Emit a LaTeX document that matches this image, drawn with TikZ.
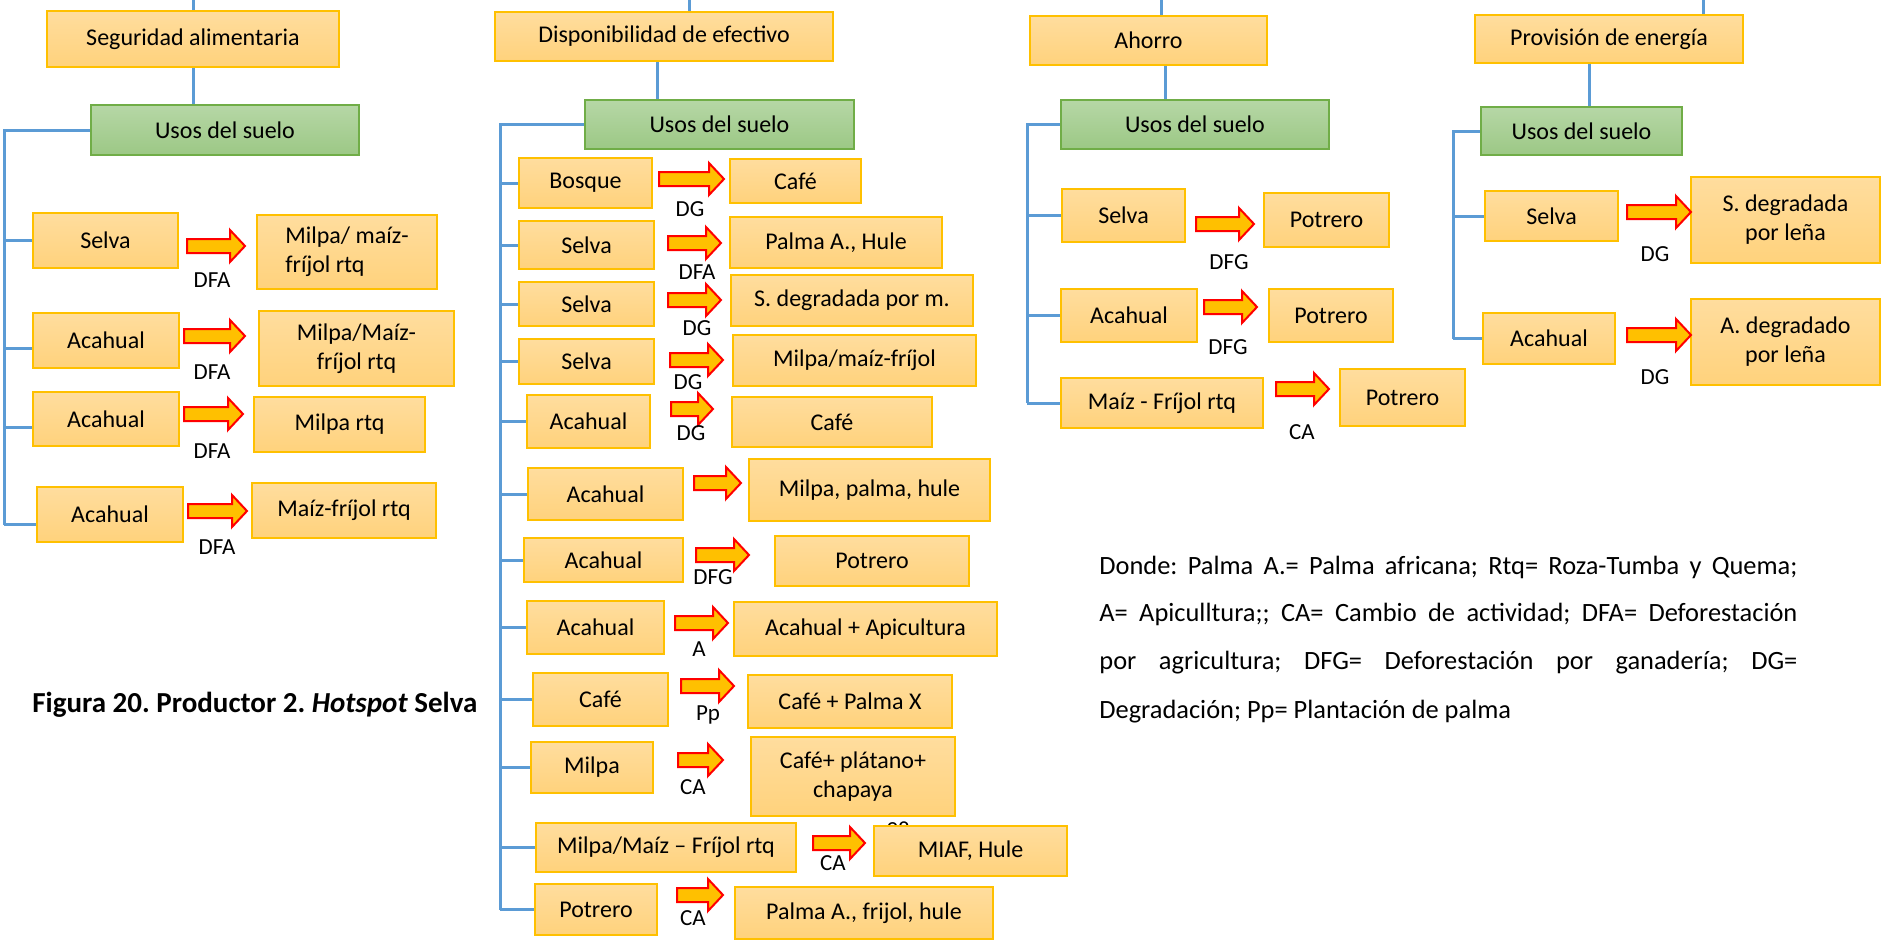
\documentclass[tikz,border=0pt]{standalone}
\usepackage{fontspec}
\setmainfont{Carlito}
\usetikzlibrary{calc}
\frenchspacing
\definecolor{gold}{HTML}{FFC000}
\definecolor{oTop}{HTML}{FFDD9E}
\definecolor{oBot}{HTML}{FFD27C}
\definecolor{gTop}{HTML}{B6D7A6}
\definecolor{gBot}{HTML}{9CC885}
\definecolor{gEdge}{HTML}{70AD47}
\definecolor{connc}{HTML}{5B9BD5}
\definecolor{aRed}{HTML}{FF0000}
% box from pixel corners: \bx[style]{name}{x1}{y1}{x2}{y2}{text}
\newcommand{\bx}[7][obox]{%
  \node[#1, minimum width={(#5-#3)*0.5pt}, minimum height={(#6-#4)*0.5pt}] (#2) at ({(#3+#5)/2},{(#4+#6)/2}) {#7};}
\newcommand{\blockarr}[3]{%
  \draw[barrow] (#1,{#3-7}) -- ({#2-15},{#3-7}) -- ({#2-15},{#3-16}) -- (#2,#3) -- ({#2-15},{#3+16}) -- ({#2-15},{#3+7}) -- (#1,{#3+7}) -- cycle;}
\begin{document}
\begin{tikzpicture}[x=0.5pt,y=-0.5pt,
  obox/.style={draw=gold, line width=1pt, top color=oTop, bottom color=oBot, inner sep=0pt, align=center, font=\fontsize{12}{14.5}\selectfont},
  oboxl/.style={obox, align=left},
  gbox/.style={draw=gEdge, line width=1pt, top color=gTop, bottom color=gBot, inner sep=0pt, font=\fontsize{12}{14.5}\selectfont},
  conn/.style={draw=connc, line width=1.5pt},
  barrow/.style={draw=aRed, fill=gold, line width=1pt, line join=miter},
  lbl/.style={inner sep=0pt, font=\fontsize{11.5}{13}\selectfont},
  leg/.style={anchor=base west, inner sep=0pt, font=\fontsize{13.2}{16}\selectfont}]
\useasboundingbox (0,0) rectangle (1881,943);
\coordinate (top) at (0,0);
\coordinate (sp1) at (4,0);
\coordinate (sp2) at (500,0);
\coordinate (sp3) at (1027,0);
\coordinate (sp4) at (1453,0);

% ---------- Column 1 ----------
\bx{sa}{47}{11}{339}{67}{Seguridad alimentaria}
\bx[gbox]{u1}{91}{105}{359}{155}{Usos del suelo}
\bx{s1}{33}{213}{178}{268}{Selva}
\bx{s2}{33}{313}{179}{368}{Acahual}
\bx{s3}{33}{392}{179}{446}{Acahual}
\bx{s4}{37}{487}{183}{542}{Acahual}
\bx[oboxl]{t1}{257}{215}{437}{289}{Milpa/ maíz-\\fríjol rtq}
\bx{t2}{259}{311}{454}{386}{Milpa/Maíz-\\fríjol rtq}
\bx{t3}{254}{397}{425}{452}{Milpa rtq}
\bx{t4}{252}{483}{436}{538}{Maíz-fríjol rtq}
\draw[conn] (sa.north) -- (sa.north |- top);
\draw[conn] (sa.south) -- (sa.south |- u1.north);
\draw[conn] (u1.west) -| ($(sp1 |- s4.west)+(0,10)$);
\draw[conn] (sp1 |- s1.west) -- (s1.west);
\draw[conn] ($(sp1 |- s2.west)+(0,8)$) -- ($(s2.west)+(0,8)$);
\draw[conn] ($(sp1 |- s3.west)+(0,8)$) -- ($(s3.west)+(0,8)$);
\draw[conn] ($(sp1 |- s4.west)+(0,10)$) -- ($(s4.west)+(0,10)$);
\blockarr{187}{245}{246}
\blockarr{184}{245}{336}
\blockarr{184}{243}{414}
\blockarr{188}{247}{511}
\node[lbl] (l1) at (212,280) {DFA};
\node[lbl] (l2) at (212,372) {DFA};
\node[lbl] (l3) at (212,451) {DFA};
\node[lbl] (l4) at (217,547) {DFA};
\node[anchor=west, inner sep=0pt, font=\bfseries\fontsize{14.5}{17}\selectfont] (title) at (32,705) {Figura 20. Productor 2. \textit{Hotspot} Selva};

% ---------- Column 2 ----------
\bx{de}{495}{12}{833}{61}{Disponibilidad de efectivo}
\bx[gbox]{u2}{585}{100}{854}{149}{Usos del suelo}
\bx{p1}{519}{158}{652}{208}{Bosque}
\bx{p2}{519}{221}{654}{269}{Selva}
\bx{p3}{519}{282}{654}{326}{Selva}
\bx{p4}{519}{339}{654}{384}{Selva}
\bx{p5}{527}{395}{650}{448}{Acahual}
\bx{p6}{528}{468}{683}{520}{Acahual}
\bx{p7}{524}{538}{683}{582}{Acahual}
\bx{p8}{527}{601}{664}{654}{Acahual}
\bx{p9}{533}{673}{668}{726}{Café}
\bx{p10}{531}{742}{653}{793}{Milpa}
\bx{p11}{536}{823}{796}{872}{Milpa/Maíz – Fríjol rtq}
\bx{p12}{535}{884}{657}{935}{Potrero}
\bx{q1}{730}{159}{861}{203}{Café}
\bx{q2}{730}{217}{942}{268}{Palma A., Hule}
\bx{q3}{731}{275}{973}{326}{S. degradada por m.}
\bx{q4}{733}{335}{976}{386}{Milpa/maíz-fríjol}
\bx{q5}{732}{397}{932}{447}{Café}
\bx{q6}{749}{459}{990}{521}{Milpa, palma, hule}
\bx{q7}{775}{536}{969}{586}{Potrero}
\bx{q8}{734}{602}{997}{656}{Acahual + Apicultura}
\bx{q9}{748}{675}{952}{728}{Café + Palma X}
\bx{q10}{751}{737}{955}{816}{Café+ plátano+\\chapaya}
\node[lbl] (n98) at (898,830) {98};
\bx{q11}{874}{826}{1067}{876}{MIAF, Hule}
\bx{q12}{735}{887}{993}{939}{Palma A., frijol, hule}
\draw[conn] ($(de.north)+(25,0)$) -- ($(de.north |- top)+(25,0)$);
\draw[conn] ($(de.south)+(-7,0)$) -- ($(de.south |- u2.north)+(-7,0)$);
\draw[conn] (u2.west) -| (sp2 |- p12.west);
\foreach \n in {p1,p2,p3,p4,p5,p6,p7,p8,p9,p10,p11,p12}
  \draw[conn] (sp2 |- \n.west) -- (\n.west);
\blockarr{659}{724}{179}
\blockarr{668}{721}{243}
\blockarr{668}{721}{300}
\blockarr{670}{723}{360}
\blockarr{671}{713}{409}
\blockarr{694}{741}{483}
\blockarr{696}{749}{555}
\blockarr{675}{728}{623}
\blockarr{681}{734}{686}
\blockarr{678}{723}{760}
\blockarr{813}{865}{843}
\blockarr{677}{723}{895}
\node[lbl] (m1) at (690,209) {DG};
\node[lbl] (m2) at (697,272) {DFA};
\node[lbl] (m3) at (697,328) {DG};
\node[lbl] (m4) at (688,382) {DG};
\node[lbl] (m5) at (691,433) {DG};
\node[lbl] (m7) at (713,577) {DFG};
\node[lbl] (m8) at (699,649) {A};
\node[lbl] (m9) at (708,715) {Pp};
\node[lbl] (m10) at (693,787) {CA};
\node[lbl] (m11) at (833,863) {CA};
\node[lbl] (m12) at (693,918) {CA};

% ---------- Column 3 ----------
\bx{ah}{1030}{16}{1267}{65}{Ahorro}
\bx[gbox]{u3}{1061}{100}{1329}{149}{Usos del suelo}
\bx{r1}{1062}{189}{1185}{242}{Selva}
\bx{r2}{1061}{289}{1197}{342}{Acahual}
\bx{r3}{1061}{378}{1263}{428}{Maíz - Fríjol rtq}
\bx{v1}{1264}{193}{1389}{247}{Potrero}
\bx{v2}{1269}{289}{1393}{342}{Potrero}
\bx{v3}{1340}{369}{1465}{426}{Potrero}
\draw[conn] ($(ah.north)+(12.5,0)$) -- ($(ah.north |- top)+(12.5,0)$);
\draw[conn] ($(ah.south)+(16.5,0)$) -- ($(ah.south |- u3.north)+(16.5,0)$);
\draw[conn] (u3.west) -| (sp3 |- r3.west);
\foreach \n in {r1,r2,r3}
  \draw[conn] (sp3 |- \n.west) -- (\n.west);
\blockarr{1196}{1254}{224}
\blockarr{1204}{1257}{307}
\blockarr{1276}{1329}{389}
\node[lbl] (k1) at (1229,262) {DFG};
\node[lbl] (k2) at (1228,347) {DFG};
\node[lbl] (k3) at (1302,432) {CA};

% ---------- Column 4 ----------
\bx{pe}{1475}{15}{1743}{63}{Provisión de energía}
\bx[gbox]{u4}{1481}{107}{1682}{155}{Usos del suelo}
\bx{w1}{1485}{191}{1618}{241}{Selva}
\bx{w2}{1483}{313}{1615}{364}{Acahual}
\bx{z1}{1691}{177}{1880}{263}{S. degradada\\por leña}
\bx{z2}{1691}{299}{1880}{385}{A. degradado\\por leña}
\draw[conn] ($(pe.north)+(94,0)$) -- ($(pe.north |- top)+(94,0)$);
\draw[conn] ($(pe.south)+(-20,0)$) -- ($(pe.south |- u4.north)+(-20,0)$);
\draw[conn] (u4.west) -| (sp4 |- w2.west);
\foreach \n in {w1,w2}
  \draw[conn] (sp4 |- \n.west) -- (\n.west);
\blockarr{1627}{1691}{212}
\blockarr{1627}{1691}{335}
\node[lbl] (j1) at (1655,254) {DG};
\node[lbl] (j2) at (1655,377) {DG};

% ---------- Legend ----------
\node[leg] (lg1) at (1099,574) {\makebox[349pt][s]{Donde: Palma A.= Palma africana; Rtq= Roza-Tumba y Quema;}};
\node[leg] (lg2) at (1099,621) {\makebox[349pt][s]{A= Apiculltura;; CA= Cambio de actividad; DFA= Deforestación}};
\node[leg] (lg3) at (1099,669) {\makebox[349pt][s]{por agricultura; DFG= Deforestación por ganadería; DG=}};
\node[leg] (lg4) at (1099,718) {Degradación; Pp= Plantación de palma};
\end{tikzpicture}
\end{document}
